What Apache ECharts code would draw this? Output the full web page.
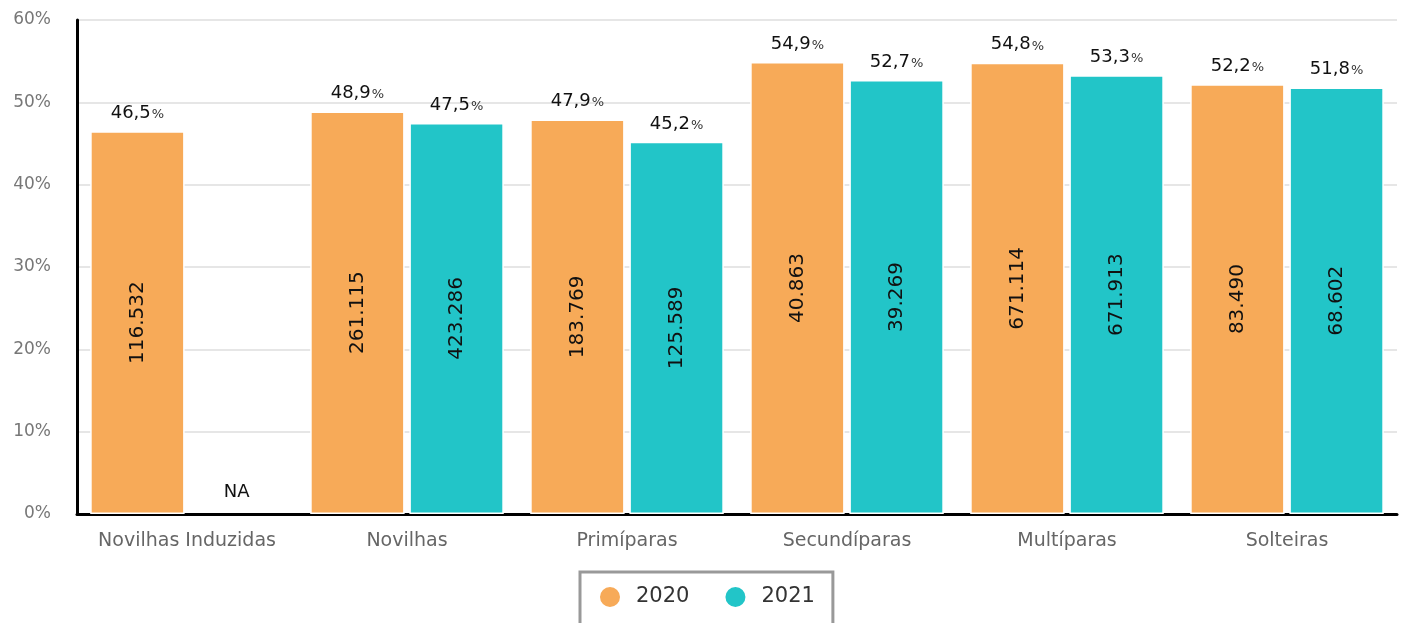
<!DOCTYPE html>
<html>
<head>
<meta charset="utf-8">
<script src="https://cdn.jsdelivr.net/npm/echarts@6/dist/echarts.min.js"></script>
<style>
  html, body { margin: 0; padding: 0; background: #fff; }
  #chart { width: 1402px; height: 623px; }
</style>
</head>
<body>
<div id="chart"></div>
<script>
var categories = ['Novilhas Induzidas', 'Novilhas', 'Primíparas', 'Secundíparas', 'Multíparas', 'Solteiras'];
var years = ['2020', '2021'];
var pct2020 = [46.5, 48.9, 47.9, 54.9, 54.8, 52.2];
var pct2021 = [null, 47.5, 45.2, 52.7, 53.3, 51.8];
var count2020 = [116532, 261115, 183769, 40863, 671114, 83490];
var count2021 = [null, 423286, 125589, 39269, 671913, 68602];
var colors = ['#f7aa58', '#22c5c8'];

var FONT = 'DejaVu Sans';

function fmtCount(n) {
  return String(n).replace(/\B(?=(\d{3})+(?!\d))/g, '.');
}

function fmtPct(v) {
  return v.toFixed(1).replace('.', ',');
}

// main bar: height = percentage, inside label = animal count
function barSeries(name, pct, count, color) {
  return {
    name: name,
    type: 'bar',
    stack: name,
    data: pct.map(v => v === null ? '-' : v),
    itemStyle: { color: color, borderColor: '#fff', borderWidth: 1.5 },
    label: {
      show: true,
      position: 'inside',
      rotate: 90,
      fontFamily: FONT,
      fontSize: 20,
      color: '#111',
      formatter: p => count[p.dataIndex] === null ? '' : fmtCount(count[p.dataIndex])
    }
  };
}

// zero-height bar stacked on top, only to carry the percentage label
function topLabelSeries(name, pct, color) {
  return {
    name: name,
    type: 'bar',
    stack: name,
    data: pct.map(() => 0),
    itemStyle: { color: color, borderWidth: 0 },
    label: {
      show: true,
      position: 'top',
      distance: 9,
      fontFamily: FONT,
      formatter: p => {
        var v = pct[p.dataIndex];
        return v === null ? '{na|NA}' : '{a|' + fmtPct(v) + '}{b|%}';
      },
      rich: {
        a: { fontFamily: FONT, fontSize: 18, color: '#111' },
        b: { fontFamily: FONT, fontSize: 13, color: '#333', padding: [3, 0, 0, 1] },
        na: { fontFamily: FONT, fontSize: 18, color: '#111', padding: [0, 0, 4, 0] }
      }
    }
  };
}

var chart = echarts.init(document.getElementById('chart'));

var option = {
  animation: false,
  textStyle: { fontFamily: FONT },
  grid: { left: 77, right: 5, top: 20, bottom: 109, containLabel: false },
  legend: {
    data: years,
    left: 580,
    top: 572,
    icon: 'circle',
    itemWidth: 22,
    itemHeight: 22,
    itemGap: 34,
    borderColor: '#999',
    borderWidth: 3,
    padding: [13, 18, 30, 18],
    textStyle: { fontFamily: FONT, fontSize: 21, color: '#333', padding: [0, 0, 0, 10] }
  },
  xAxis: {
    type: 'category',
    data: categories,
    axisLine: { lineStyle: { color: '#000', width: 3 } },
    axisTick: { show: false },
    axisLabel: { interval: 0, fontFamily: FONT, fontSize: 19, color: '#666', margin: 18 }
  },
  yAxis: {
    type: 'value',
    min: 0,
    max: 60,
    interval: 10,
    axisLine: { show: true, lineStyle: { color: '#000', width: 3 } },
    axisTick: { show: false },
    axisLabel: { fontFamily: FONT, fontSize: 17, color: '#777', margin: 26, formatter: '{value}%' },
    splitLine: { lineStyle: { color: '#e6e6e6', width: 2 } }
  },
  series: [
    Object.assign(barSeries(years[0], pct2020, count2020, colors[0]), { barCategoryGap: '12%', barGap: '5%' }),
    barSeries(years[1], pct2021, count2021, colors[1]),
    topLabelSeries(years[0], pct2020, colors[0]),
    topLabelSeries(years[1], pct2021, colors[1])
  ]
};

chart.setOption(option);
</script>
</body>
</html>
